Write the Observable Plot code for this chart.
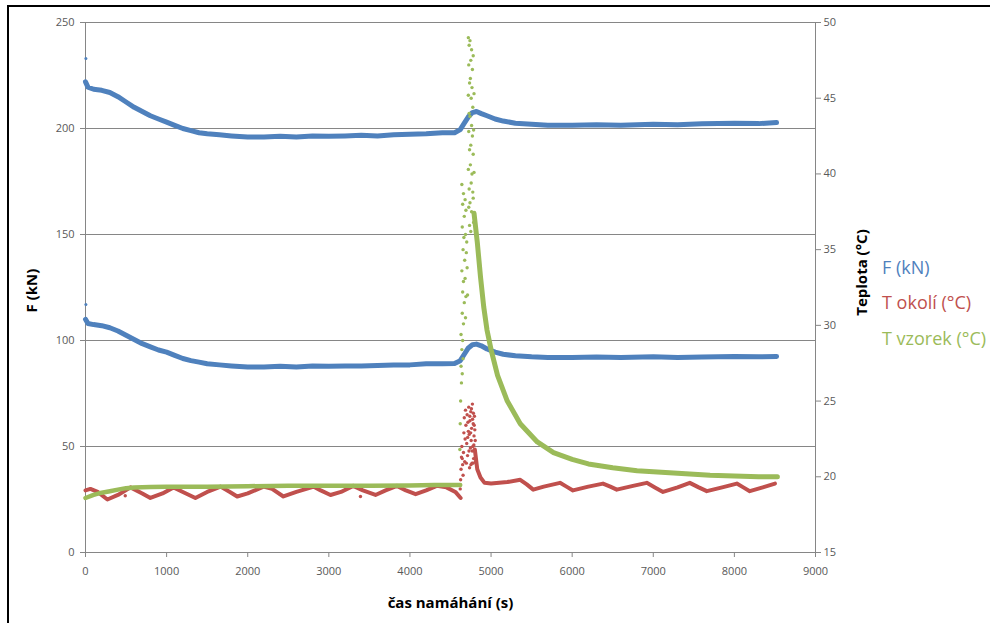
<!DOCTYPE html>
<html><head><meta charset="utf-8">
<script src="https://cdn.jsdelivr.net/npm/d3@7"></script>
<script src="https://cdn.jsdelivr.net/npm/@observablehq/plot@0.6"></script>
<style>
body{margin:0;background:#fff;}
#wrap{position:relative;width:990px;height:623px;overflow:hidden;background:#fff;}
#frame{position:absolute;left:7px;top:5px;width:1000px;height:700px;border-left:2px solid #000;border-top:2px solid #000;pointer-events:none;}
#chart{position:absolute;left:0;top:0;}
.leg{position:absolute;left:882px;font-family:"Open Sans",sans-serif;font-size:18px;white-space:nowrap;line-height:1;}
</style></head><body>
<div id="wrap"><div id="chart"></div><div id="frame"></div>
<div class="leg" style="top:258px;color:#4F81BD">F (kN)</div>
<div class="leg" style="top:293px;color:#C0504D">T okolí (°C)</div>
<div class="leg" style="top:329px;color:#9BBB59">T vzorek (°C)</div>
</div>
<script>
// x axis
const xTicks = [0,1000,2000,3000,4000,5000,6000,7000,8000,9000];
const fTicks = [0,50,100,150,200,250];
const gridLines = [50,100,150,200,250];
const tTicks = [15,20,25,30,35,40,45,50];

// F (kN) – upper and lower force records (same sampling times)
const fTime = [0,30,100,200,300,400,500,600,700,800,900,1000,1100,1200,1300,1400,1500,1650,1800,2000,2200,2400,2600,2800,3000,3200,3400,3600,3800,4000,4200,4400,4550,4620,4670,4720,4770,4820,4880,4950,5050,5150,5300,5500,5700,6000,6300,6600,7000,7300,7600,8000,8300,8520];
const fUpper = [222,219.5,218.5,218,217,215,212.5,210,208,206,204.5,203,201.5,200,199,198,197.5,197,196.5,196,196,196.3,196,196.5,196.3,196.5,196.8,196.5,197,197.3,197.5,198,198,199.5,202.5,205.5,207.5,208,207,206,204.5,203.5,202.5,202,201.5,201.5,201.8,201.5,202,201.8,202.2,202.5,202.3,202.8];
const fLower = [110,108,107.5,107,106,104.5,102.5,100.5,98.5,97,95.5,94.5,93,91.5,90.5,89.8,89,88.5,88,87.5,87.5,87.8,87.5,88,87.8,88,88,88.2,88.5,88.5,89,89,89.2,90.5,93.5,96.5,98,98.3,97.5,96,94.5,93.5,92.8,92.3,92,92,92.2,92,92.3,92,92.2,92.5,92.3,92.5];
const fOutTime = [5,5];
const fOutVal = [233,117];

// T okolí (°C)
const okTimeA = [0,60,150,270,400,555,700,800,950,1085,1200,1355,1500,1665,1780,1870,2000,2195,2300,2440,2600,2815,2900,3020,3150,3300,3420,3575,3700,3840,3950,4070,4200,4330,4450,4560,4625];
const okValA = [19.1,19.2,19.0,18.5,18.8,19.3,18.9,18.6,18.9,19.3,19.0,18.6,19.0,19.35,19.0,18.7,18.9,19.35,19.2,18.7,19.0,19.35,19.1,18.8,19.0,19.4,19.1,18.8,19.1,19.4,19.1,18.85,19.1,19.4,19.3,19.0,18.6];
const okTimeB = [4800,4830,4870,4920,5000,5100,5200,5360,5440,5520,5650,5850,5930,6010,6200,6380,6470,6550,6750,6920,7020,7120,7300,7450,7560,7660,7850,8030,8110,8190,8350,8500];
const okValB = [21.8,20.5,19.95,19.6,19.55,19.6,19.65,19.8,19.5,19.15,19.35,19.6,19.35,19.1,19.35,19.55,19.35,19.15,19.4,19.6,19.3,19.0,19.3,19.6,19.3,19.05,19.3,19.55,19.3,19.05,19.3,19.55];
const okSpikeTime = [4620,4625,4630,4635,4640,4650,4660,4680,4690,4700,4705,4710,4720,4725,4730,4735,4740,4745,4750,4755,4760,4765,4770,4775,4780,4785,4790,4795,4800,490,3390,
  4670,4675,4685,4695,4712,4715,4728,4738,4748,4752,4758,4768,4772,4778,4782,4788,4792,4798,4805,4808,4645,4655,4665];
const okSpikeVal = [19.2,19.8,20.5,21.3,22.0,20.8,21.6,22.5,23.4,22.2,24.1,21.4,23.0,24.6,22.8,20.6,23.7,21.9,24.3,22.4,23.2,20.9,24.8,22.0,23.5,21.2,22.7,24.0,23.1,18.75,18.7,
  23.9,21.0,24.4,20.9,22.6,23.6,21.7,24.0,22.9,20.8,24.5,21.7,23.8,20.9,24.2,22.1,23.4,21.7,22.4,21.0,21.2,20.1,22.9];

// T vzorek (°C)
const vzTimeA = [0,100,200,300,400,500,600,800,1000,1500,2000,2500,3000,3500,4000,4300,4620];
const vzValA = [18.6,18.8,18.95,19.05,19.15,19.25,19.3,19.32,19.35,19.35,19.38,19.4,19.4,19.4,19.42,19.45,19.45];
const vzTimeB = [4790,4830,4870,4910,4950,5000,5080,5200,5360,5570,5770,6000,6200,6500,6800,7100,7400,7700,8000,8300,8530];
const vzValB = [37.4,35.5,33.2,31.2,29.7,28.4,26.7,25.0,23.5,22.3,21.6,21.15,20.85,20.6,20.4,20.3,20.2,20.1,20.05,20.0,20.0];
const vzSpikeTime = [4740,4760,4750,4770,4745,4765,4755,4775,4740,4760,4770,4750,4780,4745,4765,4755,4775,4740,4760,4785,4750,4640,4660,4650,4670,4645,4665,4655,4675,4640,4660,4650,4670,4645,4660,4630,4640,4630,4635,4625,4620,4615,
  4720,4730,4725,4735,4720,4730,4725,4735,4720,4730,4725,4735,4780,4790,4785,4790,4780,4680,4690,4685,4695,4680,4690,4685,4650,4655,4645,4700,4705,4710];
const vzSpikeVal = [48.8,48.2,47.5,46.9,46.3,45.7,45.0,44.4,43.8,43.2,42.5,41.9,41.3,40.6,40.0,39.4,38.8,38.1,37.5,36.8,36.2,39.3,38.7,38.0,37.2,36.5,35.8,35.0,34.3,33.6,32.9,32.2,31.5,30.8,30.1,29.4,28.4,27.3,26.2,25.0,23.5,21.8,
  49.0,48.5,47.2,46.0,45.2,44.0,42.8,41.6,40.3,39.0,37.8,36.6,47.8,45.3,42.9,40.1,38.4,38.3,37.6,36.0,34.8,33.1,31.9,30.5,29.0,27.8,26.8,35.5,33.8,32.0];

const blue = "#4F81BD", red = "#C0504D", green = "#9BBB59", axisGray = "#868686", labelGray = "#595959";
// temperature is drawn against the left scale via the linear map of the right axis (15..50 °C ↔ 0..250 kN)
const toF = T => (T - 15) * 250 / 35;
const toT = F => F * 35 / 250 + 15;
const rows = (ts, vs, f = v => v) => ts.map((t, i) => ({t, v: f(vs[i])}));

const chart = Plot.plot({
  width: 990, height: 623,
  marginLeft: 85, marginRight: 175, marginTop: 22, marginBottom: 71,
  x: {domain: [0, 9000]},
  y: {domain: [0, 250]},
  style: {fontFamily: "'Open Sans', sans-serif", fontSize: "11px", background: "transparent"},
  marks: [
    Plot.ruleY(gridLines, {stroke: axisGray, strokeWidth: 1}),
    Plot.ruleX([0, 9000], {stroke: axisGray}),
    Plot.ruleY([0], {stroke: axisGray}),
    Plot.axisX(xTicks, {tickSize: 5, tickPadding: 10, stroke: axisGray, fill: labelGray, label: null, tickFormat: d => String(d)}),
    Plot.axisY(fTicks, {anchor: "left", tickSize: 5, tickPadding: 6, stroke: axisGray, fill: labelGray, label: null}),
    Plot.axisY(tTicks.map(toF), {anchor: "right", tickSize: 5, tickPadding: 3, stroke: axisGray, fill: labelGray, label: null, tickFormat: d => String(Math.round(toT(d)))}),
    // F (kN)
    Plot.line(rows(fTime, fUpper), {x: "t", y: "v", stroke: blue, strokeWidth: 5}),
    Plot.line(rows(fTime, fLower), {x: "t", y: "v", stroke: blue, strokeWidth: 5}),
    Plot.dot(rows(fOutTime, fOutVal), {x: "t", y: "v", fill: blue, r: 1.5}),
    // T okolí
    Plot.line(rows(okTimeA, okValA, toF), {x: "t", y: "v", stroke: red, strokeWidth: 4}),
    Plot.line(rows(okTimeB, okValB, toF), {x: "t", y: "v", stroke: red, strokeWidth: 4}),
    Plot.dot(rows(okSpikeTime, okSpikeVal, toF), {x: "t", y: "v", fill: red, r: 1.7}),
    // T vzorek
    Plot.line(rows(vzTimeA, vzValA, toF), {x: "t", y: "v", stroke: green, strokeWidth: 4.5}),
    Plot.line(rows(vzTimeB, vzValB, toF), {x: "t", y: "v", stroke: green, strokeWidth: 5}),
    Plot.dot(rows(vzSpikeTime, vzSpikeVal, toF), {x: "t", y: "v", fill: green, r: 1.7}),
    // axis titles
    Plot.text(["F (kN)"], {frameAnchor: "left", textAnchor: "middle", dx: -53, dy: 3, rotate: -90, fontSize: 15, fontWeight: "bold", fill: "#000"}),
    Plot.text(["Teplota (°C)"], {frameAnchor: "right", textAnchor: "middle", dx: 47, dy: -15, rotate: -90, fontSize: 15, fontWeight: "bold", fill: "#000"}),
    Plot.text(["čas namáhání (s)"], {frameAnchor: "bottom", textAnchor: "middle", dy: 55, fontSize: 15, fontWeight: "bold", fill: "#000"})
  ]
});
document.getElementById("chart").appendChild(chart);
</script>
</body></html>
